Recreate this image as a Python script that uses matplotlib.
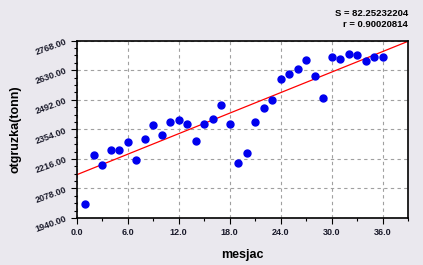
import numpy as np
import matplotlib
matplotlib.use('Agg')
import matplotlib.pyplot as plt
from matplotlib.ticker import MultipleLocator, FixedLocator, FormatStrFormatter

plt.rcParams['font.family'] = ['Liberation Sans', 'DejaVu Sans']

mesjac = list(range(1, 37))
otgruzka = [2007, 2233, 2186, 2256, 2256, 2293, 2209, 2308, 2376, 2326,
            2387, 2396, 2378, 2300, 2378, 2401, 2466, 2378, 2198, 2242,
            2387, 2452, 2490, 2588, 2611, 2637, 2676, 2602, 2499, 2690,
            2681, 2704, 2700, 2672, 2690, 2690]
y_ticks = [1940, 2078, 2216, 2354, 2492, 2630, 2768]
stats_text = 'S = 82.25232204\nr = 0.90020814'

bg = '#EAE8EE'
fig = plt.figure(figsize=(4.23, 2.65), dpi=100, facecolor=bg)
ax = fig.add_axes([76.5 / 423, 1 - 218 / 265, (408 - 76.5) / 423, (218 - 40.7) / 265])
ax.set_facecolor('white')

# regression line
k, b = np.polyfit(mesjac, otgruzka, 1)
xl = np.array([0, 39])
ax.plot(xl, k * xl + b, color='red', linewidth=0.9, zorder=2)
ax.plot(mesjac, otgruzka, 'o', color='#0000EE', markersize=5, zorder=3)

ax.set_xlim(0, 39)
ax.set_ylim(y_ticks[0], y_ticks[-1])
ax.xaxis.set_major_locator(MultipleLocator(6))
ax.xaxis.set_minor_locator(MultipleLocator(3))
ax.yaxis.set_major_locator(FixedLocator(y_ticks))
step = (y_ticks[1] - y_ticks[0]) / 4
ax.yaxis.set_minor_locator(FixedLocator(np.arange(y_ticks[0], y_ticks[-1] + 1, step)))
ax.xaxis.set_major_formatter(FormatStrFormatter('%.1f'))
ax.yaxis.set_major_formatter(FormatStrFormatter('%.2f'))
ax.grid(True, which='major', linestyle=(0, (3, 3)), color='#A0A0A0', linewidth=0.8)
ax.tick_params(which='major', length=4, width=0.8, labelsize=6.5, colors='black')
ax.tick_params(which='minor', length=2.5, width=0.8)
ax.tick_params(axis='y', labelrotation=20, pad=2)
for lbl in ax.get_xticklabels() + ax.get_yticklabels():
    lbl.set_fontweight('bold')
    lbl.set_color('#1a1a2a')
for s in ax.spines.values():
    s.set_linewidth(1.2)

ax.set_xlabel('mesjac', fontsize=9, fontweight='bold', labelpad=8)
ax.set_ylabel('otgruzka(tonn)', fontsize=9, fontweight='bold', labelpad=9)
fig.text(408 / 423, 1 - 9 / 265, stats_text, ha='right', va='top',
         fontsize=6.8, fontweight='bold', linespacing=1.3)

fig.savefig('out.png', dpi=100, facecolor=bg)
